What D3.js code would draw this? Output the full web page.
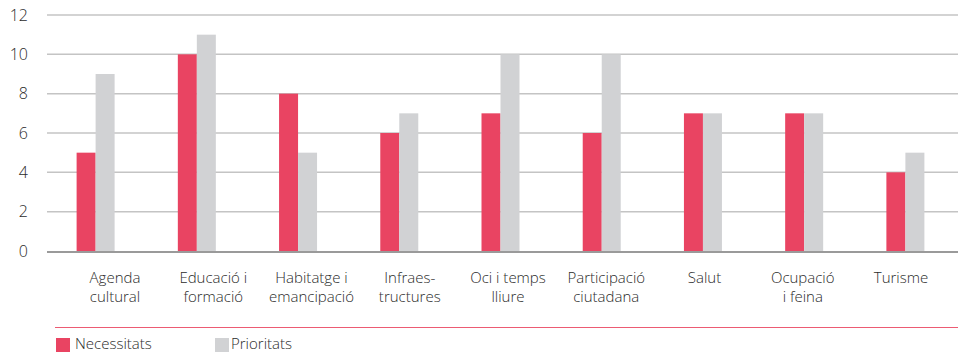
<!DOCTYPE html>
<html>
<head>
<meta charset="utf-8">
<script src="https://d3js.org/d3.v7.min.js"></script>
<style>
  body { margin: 0; background: #fff; }
  svg text { font-family: "Open Sans", Lato, sans-serif; font-weight: 300; fill: #2b2b2b; }
</style>
</head>
<body>
<svg id="chart" width="958" height="354"></svg>
<script>
var categories = [
  ["Agenda", "cultural"],
  ["Educació i", "formació"],
  ["Habitatge i", "emancipació"],
  ["Infraes-", "tructures"],
  ["Oci i temps", "lliure"],
  ["Participació", "ciutadana"],
  ["Salut"],
  ["Ocupació", "i feina"],
  ["Turisme"]
];
var necessitats = [5, 10, 8, 6, 7, 6, 7, 7, 4];
var prioritats = [9, 11, 5, 7, 10, 10, 7, 7, 5];
var yTicks = [0, 2, 4, 6, 8, 10, 12];
var seriesNames = ["Necessitats", "Prioritats"];
var colours = ["#e94462", "#d1d2d4"];

var svg = d3.select("#chart");
var ids = categories.map(function(d, i){ return i; });

var x = d3.scaleBand().domain(ids).range([45, 956]);
var xLabel = d3.scalePoint().domain(ids).range([115, 901]);
var y = d3.scaleLinear().domain([0, 12]).range([251, 15]);
var barW = 19;

// grid
svg.append("g").selectAll("line")
  .data(yTicks.filter(function(t){ return t > 0; }))
  .enter().append("line")
  .attr("x1", 47).attr("x2", 958)
  .attr("y1", function(d){ return y(d); })
  .attr("y2", function(d){ return y(d); })
  .style("stroke", "#c4c4c4")
  .style("stroke-width", 1.5);

// y labels
svg.append("g").selectAll("text")
  .data(yTicks)
  .enter().append("text")
  .attr("x", 28)
  .attr("y", function(d){ return y(d); })
  .attr("dy", "0.35em")
  .attr("text-anchor", "end")
  .style("font-size", "16px")
  .text(function(d){ return d; });

// bars
var series = [necessitats, prioritats];
series.forEach(function(vals, s){
  svg.append("g").selectAll("rect")
    .data(vals)
    .enter().append("rect")
    .attr("x", function(d, i){ return x(i) + x.bandwidth() / 2 - barW + s * barW; })
    .attr("y", function(d){ return y(d); })
    .attr("width", barW)
    .attr("height", function(d){ return y(0) - y(d); })
    .style("fill", colours[s]);
});

// baseline
svg.append("line")
  .attr("x1", 47).attr("x2", 958)
  .attr("y1", y(0) + 1).attr("y2", y(0) + 1)
  .style("stroke", "#9a9a9a")
  .style("stroke-width", 2);

// category labels, one text per line
var lines = [];
categories.forEach(function(c, i){
  c.forEach(function(t, j){ lines.push({i: i, j: j, t: t}); });
});
svg.append("g").selectAll("text")
  .data(lines)
  .enter().append("text")
  .attr("text-anchor", "middle")
  .style("font-size", "15px")
  .attr("x", function(d){ return xLabel(d.i); })
  .attr("y", function(d){ return 283 + d.j * 19; })
  .text(function(d){ return d.t; });

// legend
svg.append("line")
  .attr("x1", 55).attr("x2", 958)
  .attr("y1", 327.5).attr("y2", 327.5)
  .style("stroke", "#ec5b73")
  .style("stroke-width", 1);

var legX = [56, 215];
var leg = svg.append("g").selectAll("g")
  .data(seriesNames)
  .enter().append("g")
  .attr("transform", function(d, i){ return "translate(" + legX[i] + ",338)"; });
leg.append("rect")
  .attr("width", 14).attr("height", 14)
  .style("fill", function(d, i){ return colours[i]; });
leg.append("text")
  .attr("x", function(d, i){ return i === 0 ? 19 : 16; })
  .attr("y", 10.5)
  .style("font-size", "15px")
  .text(function(d){ return d; });
</script>
</body>
</html>
